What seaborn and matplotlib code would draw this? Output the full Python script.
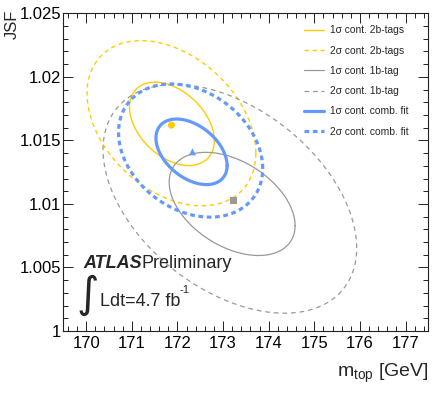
import numpy as np
import pandas as pd
import matplotlib
matplotlib.use("Agg")
import matplotlib.pyplot as plt
import seaborn as sns
from matplotlib.lines import Line2D
from matplotlib.ticker import MultipleLocator, FuncFormatter
from matplotlib.transforms import offset_copy

# Best-fit points of the three measurements
fit_names = ["2b-tags", "1b-tag", "comb. fit"]
fit_mtop = [171.87, 173.23, 172.33]
fit_jsf = [1.0162, 1.0103, 1.0141]

# Confidence contours: centre, half-width in m_top, half-height in JSF, correlation
cont_names = ["1σ cont. 2b-tags", "2σ cont. 2b-tags",
              "1σ cont. 1b-tag", "2σ cont. 1b-tag",
              "1σ cont. comb. fit", "2σ cont. comb. fit"]
cont_group = ["2b-tags", "2b-tags", "1b-tag", "1b-tag", "comb. fit", "comb. fit"]
cont_mtop = [171.88, 171.87, 173.20, 173.15, 172.31, 172.29]
cont_jsf = [1.0163, 1.01635, 1.0100, 1.0104, 1.0141, 1.0142]
cont_dm = [0.93, 1.85, 1.38, 2.78, 0.78, 1.58]
cont_djsf = [0.00328, 0.0065, 0.00406, 0.0090, 0.00258, 0.00524]
cont_rho = [-0.40, -0.36, -0.42, -0.43, -0.42, -0.27]

x_ticks = [170, 171, 172, 173, 174, 175, 176, 177]
y_ticks = [1.0, 1.005, 1.01, 1.015, 1.02, 1.025]

colors = {"2b-tags": "#FFCC00", "1b-tag": "#999999", "comb. fit": "#6699FF"}
widths = {"2b-tags": 1.0, "1b-tag": 0.9, "comb. fit": 2.3}
dash_2s = {"2b-tags": (3.2, 2.6), "1b-tag": (3.4, 2.8), "comb. fit": (3.4, 2.6)}
markers = {"2b-tags": "o", "1b-tag": "s", "comb. fit": "^"}

sns.set_theme(style="ticks")
plt.rcParams["font.family"] = ["Liberation Sans", "DejaVu Sans"]
plt.rcParams["mathtext.fontset"] = "custom"
plt.rcParams["mathtext.rm"] = "Liberation Sans"
plt.rcParams["mathtext.it"] = "Liberation Sans:italic"
plt.rcParams["lines.scale_dashes"] = False

fig = plt.figure(figsize=(4.34, 4.01), dpi=100)
ax = fig.add_axes([0.1459, 0.1746, 0.8410, 0.7922])

# Build the contour curves from the ellipse parameters
t = np.linspace(0, 2 * np.pi, 361)
rows = []
for name, cx, cy, a, b, r in zip(cont_names, cont_mtop, cont_jsf, cont_dm, cont_djsf, cont_rho):
    xs = cx + a * np.cos(t)
    ys = cy + b * (r * np.cos(t) + np.sqrt(1 - r * r) * np.sin(t))
    rows.append(pd.DataFrame({"mtop": xs, "jsf": ys, "contour": name}))
curves = pd.concat(rows, ignore_index=True)

for name, grp in zip(cont_names, cont_group):
    sub = curves[curves["contour"] == name]
    ls = "-" if name.startswith("1σ") else (0, dash_2s[grp])
    sns.lineplot(data=sub, x="mtop", y="jsf", sort=False, estimator=None,
                 color=colors[grp], lw=widths[grp], linestyle=ls, ax=ax, zorder=2)

fits = pd.DataFrame({"mtop": fit_mtop, "jsf": fit_jsf, "fit": fit_names})
sns.scatterplot(data=fits, x="mtop", y="jsf", hue="fit", style="fit",
                palette=colors, markers=markers, s=26, edgecolor="none",
                legend=False, ax=ax, zorder=3)

# Legend
handles = []
for name, grp in zip(cont_names, cont_group):
    ls = "-" if name.startswith("1σ") else (0, dash_2s[grp])
    handles.append(Line2D([], [], color=colors[grp], lw=widths[grp], linestyle=ls))
ax.legend(handles, cont_names, frameon=False, loc="upper right",
          bbox_to_anchor=(0.957, 0.975), fontsize=7.4, handlelength=2.0,
          handletextpad=0.55, labelspacing=1.0, borderaxespad=0.0)

ax.set_xlim(169.5, 177.5)
ax.set_ylim(1.0, 1.025)
ax.set_xticks(x_ticks)
ax.set_yticks(y_ticks)
ax.xaxis.set_minor_locator(MultipleLocator(0.2))
ax.yaxis.set_minor_locator(MultipleLocator(0.001))
ax.yaxis.set_major_formatter(FuncFormatter(lambda v, _: f"{v:g}"))
ax.xaxis.set_major_formatter(FuncFormatter(lambda v, _: f"{v:g}"))
ax.tick_params(which="both", direction="in", top=True, right=True,
               colors="#222222", labelcolor="black", width=0.7)
ax.tick_params(which="major", length=7, labelsize=12)
ax.tick_params(which="minor", length=3.6)
ax.tick_params(axis="x", pad=3.5)
ax.tick_params(axis="y", pad=1.5)
for sp in ax.spines.values():
    sp.set_visible(True)
    sp.set_color("#222222")
    sp.set_linewidth(0.8)

ax.set_xlabel("m$_{\\mathrm{top}}$ [GeV]", fontsize=14, loc="right")
ax.set_ylabel("JSF", fontsize=12, loc="top")
ax.xaxis.set_label_coords(1.002, -0.097)
ax.yaxis.set_label_coords(-0.1186, 1.0104)

ax.text(0.056, 0.198, "ATLAS", transform=ax.transAxes, fontsize=13,
        fontweight="bold", fontstyle="italic", ha="left", va="baseline")
ax.text(0.2148, 0.198, "Preliminary", transform=ax.transAxes, fontsize=13,
        ha="left", va="baseline")
ax.text(0.068, 0.077, "∫", transform=ax.transAxes, fontsize=31,
        family="DejaVu Sans", ha="center", va="baseline")
lumi = ax.text(0.0997, 0.0787, "Ldt=4.7 fb", transform=ax.transAxes,
               fontsize=13, ha="left", va="baseline")
fig.canvas.draw()
ext = lumi.get_window_extent()
x_end, y_base = ax.transAxes.inverted().transform((ext.x1, ext.y0))
ax.text(x_end - 0.002, 0.0787, "-1",
        transform=offset_copy(ax.transAxes, fig=fig, x=0, y=9.5, units="points"),
        fontsize=8, ha="left", va="baseline")

fig.savefig("out.png", dpi=100, facecolor="white")
